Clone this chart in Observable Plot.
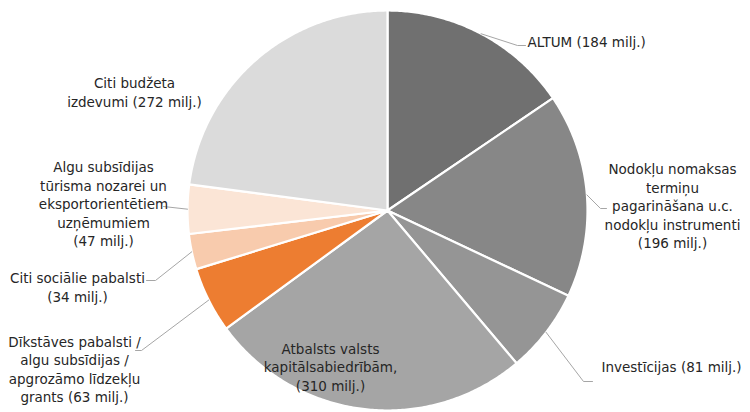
<!DOCTYPE html>
<html>
<head>
<meta charset="utf-8">
<script src="https://cdn.jsdelivr.net/npm/d3@7"></script>
<script src="https://cdn.jsdelivr.net/npm/@observablehq/plot@0.6"></script>
<style>
  html, body { margin: 0; padding: 0; background: #fff; }
  #chart svg { display: block; }
</style>
</head>
<body>
<div id="chart"></div>
<script>
// ---- data ----
const categories = [
  "ALTUM",
  "Nodokļu nomaksas termiņu pagarināšana u.c. nodokļu instrumenti",
  "Investīcijas",
  "Atbalsts valsts kapitālsabiedrībām",
  "Dīkstāves pabalsti / algu subsīdijas / apgrozāmo līdzekļu grants",
  "Citi sociālie pabalsti",
  "Algu subsīdijas tūrisma nozarei un eksportorientētiem uzņēmumiem",
  "Citi budžeta izdevumi"
];
const values = [184, 196, 81, 310, 63, 34, 47, 272];
const labels = [
  "ALTUM (184 milj.)",
  "Nodokļu nomaksas\ntermiņu\npagarināšana u.c.\nnodokļu instrumenti\n(196 milj.)",
  "Investīcijas (81 milj.)",
  "Atbalsts valsts\nkapitālsabiedrībām,\n(310 milj.)",
  "Dīkstāves pabalsti /\nalgu subsīdijas /\napgrozāmo līdzekļu\ngrants (63 milj.)",
  "Citi sociālie pabalsti\n(34 milj.)",
  "Algu subsīdijas\ntūrisma nozarei un\neksportorientētiem\nuzņēmumiem\n(47 milj.)",
  "Citi budžeta\nizdevumi (272 milj.)"
];
const colors = ["#707070", "#878787", "#959595", "#a5a5a5", "#ed7d31", "#f8cbad", "#fbe5d6", "#dbdbdb"];

// ---- layout (pixel positions of labels / leader bends) ----
const CX = 387, CY = 210, R = 200;
const ux = px => (px - CX) / R;
const uy = py => (CY - py) / R;
const labelLayout = [
  {x: 527, y: 41, anchor: "start", leader: [[517, 45], [525, 45]]},
  {x: 672, y: 205, anchor: "middle", leader: [[600, 208], [606, 208]]},
  {x: 601, y: 366, anchor: "start", leader: [[583, 381], [592, 381]]},
  {x: 330, y: 366, anchor: "middle", leader: null},
  {x: 74, y: 368, anchor: "middle", leader: [[141, 350], [135, 350]]},
  {x: 77, y: 286, anchor: "middle", leader: [[155, 280], [146, 280]]},
  {x: 103, y: 203, anchor: "middle", leader: [[163, 206]]},
  {x: 134, y: 91, anchor: "middle", leader: null}
];

// ---- geometry from data ----
const arcs = d3.pie().sort(null)(values);
const slices = arcs.map((a, i) => {
  const pts = [{x: 0, y: 0}];
  const n = Math.max(2, Math.ceil((a.endAngle - a.startAngle) / 0.01));
  for (let k = 0; k <= n; k++) {
    const t = a.startAngle + (a.endAngle - a.startAngle) * k / n;
    pts.push({x: Math.sin(t), y: Math.cos(t)});
  }
  return {i, pts};
});

const leaders = [];
arcs.forEach((a, i) => {
  const L = labelLayout[i];
  if (!L.leader) return;
  const m = (a.startAngle + a.endAngle) / 2;
  const pts = [{x: Math.sin(m), y: Math.cos(m)}].concat(L.leader.map(([px, py]) => ({x: ux(px), y: uy(py)})));
  leaders.push(pts);
});

const textData = labels.map((t, i) => ({text: t, x: ux(labelLayout[i].x), y: uy(labelLayout[i].y), anchor: labelLayout[i].anchor}));

const textOpts = {x: "x", y: "y", text: "text", fontSize: 13.5, lineHeight: 1.37, fill: "#262626"};

const chart = Plot.plot({
  width: 750,
  height: 412,
  margin: 0,
  style: {fontFamily: "DejaVu Sans", background: "#fff"},
  x: {domain: [-1, 1], range: [CX - R, CX + R], axis: null},
  y: {domain: [-1, 1], range: [CY + R, CY - R], axis: null},
  marks: [
    ...slices.map(s => Plot.line(s.pts, {x: "x", y: "y", fill: colors[s.i], stroke: "#fff", strokeWidth: 2.2, curve: "linear-closed"})),
    ...leaders.map(p => Plot.line(p, {x: "x", y: "y", stroke: "#a6a6a6", strokeWidth: 1})),
    Plot.text(textData.filter(d => d.anchor === "start"), {...textOpts, textAnchor: "start"}),
    Plot.text(textData.filter(d => d.anchor === "middle"), {...textOpts, textAnchor: "middle"})
  ]
});
document.getElementById("chart").appendChild(chart);
</script>
</body>
</html>
